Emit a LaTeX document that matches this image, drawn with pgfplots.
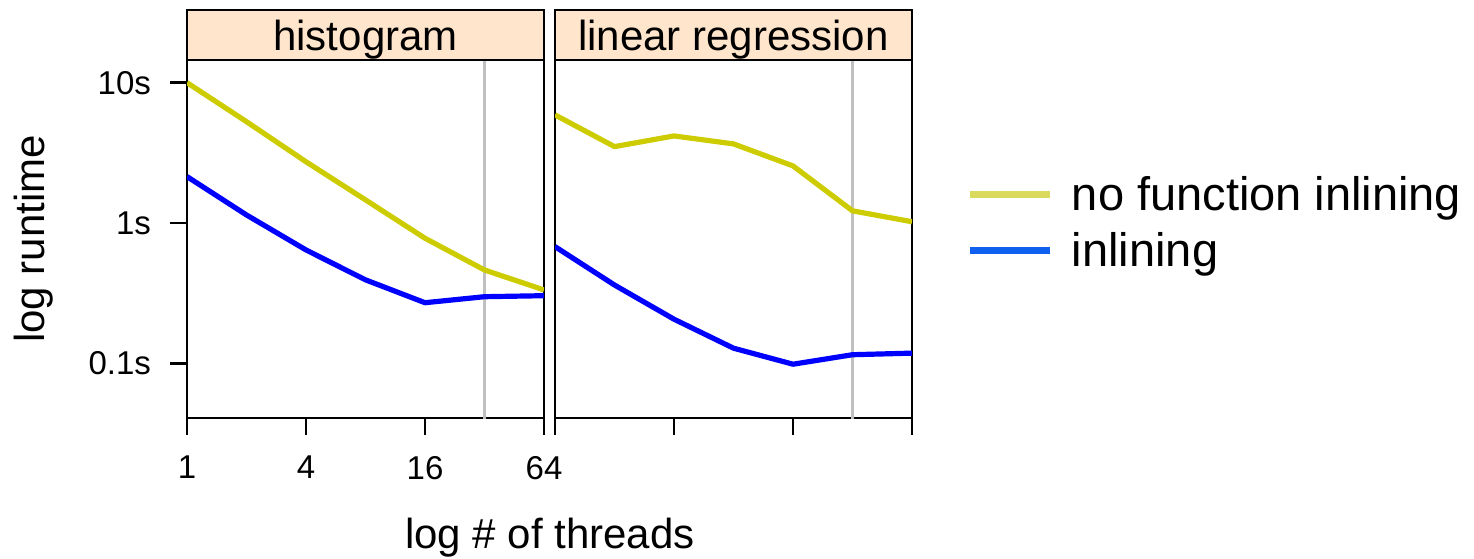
\documentclass[border=0pt]{standalone}
\usepackage{fontspec}
\setmainfont{Liberation Sans}
\usepackage{pgfplots}
\pgfplotsset{compat=1.18}
\definecolor{ylw}{HTML}{CCCC00}
\definecolor{blu}{HTML}{0000FF}
\definecolor{legylw}{HTML}{DADA5E}
\definecolor{legblu}{HTML}{1060F0}
\definecolor{strip}{HTML}{FFE5CC}
\definecolor{vgray}{HTML}{C0C0C0}
\begin{document}
\begin{tikzpicture}
\useasboundingbox (0,0) rectangle (737pt,279pt);
\begin{axis}[name=left, at={(93.5pt,70pt)}, anchor=south west,
  scale only axis, width=178.5pt, height=179pt,
  xmode=log, log basis x=2, xmin=1, xmax=64,
  ymode=log, ymin=0.0407, ymax=14.5,
  xtick={1,4,16,64}, xticklabels={1,4,16,64},
  ytick={0.1,1,10}, yticklabels={0.1s,1s,10s},
  tick align=outside, major tick length=8.5pt,
  xtick pos=bottom, ytick pos=left, minor tick num=0,
  minor tick style={draw=none},
  axis line style={line width=1.3pt},
  major tick style={black, line width=1.3pt},
  tick label style={font=\fontsize{16.5}{19}\selectfont},
  xticklabel style={yshift=-7pt}, yticklabel style={xshift=-6pt}]
\addplot[vgray, line width=1.1pt, forget plot] coordinates {(32,0.03) (32,20)};
\addplot[ylw, line width=2.6pt, line join=round] coordinates {(1,10) (2,5.27) (4,2.73) (8,1.46) (16,0.778) (32,0.462) (64,0.333)};
\addplot[blu, line width=2.6pt, line join=round] coordinates {(1,2.14) (2,1.14) (4,0.642) (8,0.393) (16,0.270) (32,0.298) (64,0.303)};
\end{axis}
\begin{axis}[name=right, at={(277.5pt,70pt)}, anchor=south west,
  scale only axis, width=178.5pt, height=179pt,
  xmode=log, log basis x=2, xmin=1, xmax=64,
  ymode=log, ymin=0.0407, ymax=14.5,
  xtick={1,4,16,64}, xticklabels={,,,},
  ytick=\empty,
  tick align=outside, major tick length=8.5pt,
  xtick pos=bottom, ytick pos=left, minor tick num=0,
  minor tick style={draw=none},
  axis line style={line width=1.3pt},
  major tick style={black, line width=1.3pt},
  legend style={at={(rel axis cs:1.154,0.545)}, anchor=west, draw=none, fill=none,
    inner sep=0pt, outer sep=0pt, nodes={inner sep=0pt},
    font=\fontsize{23.5}{28}\selectfont, row sep=9.5pt},
  legend cell align=left,
  legend image code/.code={\draw[#1, line width=3.5pt] (0pt,0pt) -- (40pt,0pt); \path (50.5pt,0pt);}]
\addlegendimage{legylw}
\addlegendentry{no function inlining}
\addlegendimage{legblu}
\addlegendentry{inlining}
\addplot[vgray, line width=1.1pt, forget plot] coordinates {(32,0.03) (32,20)};
\addplot[ylw, line width=2.6pt, line join=round, forget plot] coordinates {(1,5.89) (2,3.50) (4,4.17) (8,3.66) (16,2.55) (32,1.22) (64,1.02)};
\addplot[blu, line width=2.6pt, line join=round, forget plot] coordinates {(1,0.678) (2,0.361) (4,0.206) (8,0.128) (16,0.0984) (32,0.115) (64,0.118)};
\end{axis}
\draw[fill=strip, line width=1.3pt] (left.north west) rectangle ([yshift=25pt]left.north east);
\node[anchor=base, font=\fontsize{21}{25}\selectfont, inner sep=0pt] at ([yshift=5pt]left.north) {histogram};
\draw[fill=strip, line width=1.3pt] (right.north west) rectangle ([yshift=25pt]right.north east);
\node[anchor=base, font=\fontsize{21}{25}\selectfont, inner sep=0pt] at ([yshift=5pt]right.north) {linear regression};
\node[rotate=90, anchor=base, font=\fontsize{21}{25}\selectfont, inner sep=0pt] at (22pt,159.5pt) {log runtime};
\node[anchor=base, font=\fontsize{21}{25}\selectfont, inner sep=0pt] at (275pt,5pt) {log \# of threads};
\end{tikzpicture}
\end{document}
